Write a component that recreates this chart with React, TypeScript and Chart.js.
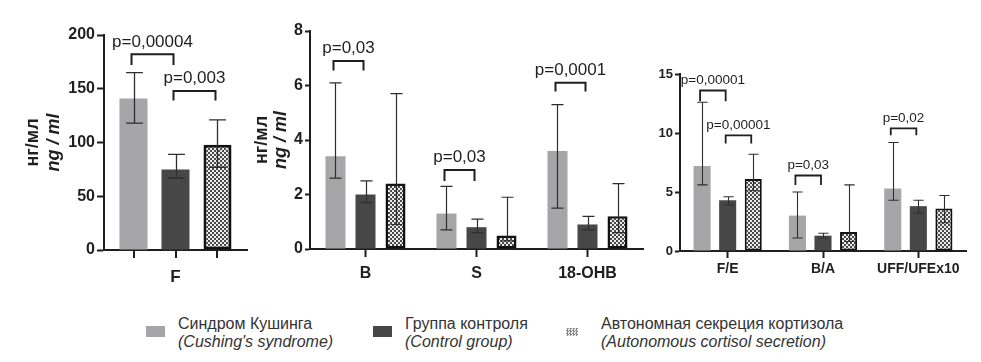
import React, { useEffect, useRef } from 'react';
import { Chart, registerables } from 'chart.js';

Chart.register(...registerables);

const FONT = '"Liberation Sans", Arial, Helvetica, sans-serif';
const INK = '#1f1f1f';
const CUSHING_COLOR = '#a6a6a8';
const CONTROL_COLOR = '#474747';

// ---------- data ----------
const seriesNames = ['Синдром Кушинга', 'Группа контроля', 'Автономная секреция кортизола'];
const seriesNamesEn = ["(Cushing's syndrome)", '(Control group)', '(Autonomous cortisol secretion)'];
const unitRu = 'нг/мл';
const unitEn = 'ng / ml';

// Panel 1
const p1Categories = ['F'];
const p1Cushing = [141];
const p1CushingLow = [118];
const p1CushingHigh = [165];
const p1Control = [75];
const p1ControlLow = [67];
const p1ControlHigh = [89];
const p1Auto = [98];
const p1AutoLow = [77];
const p1AutoHigh = [121];
const p1Ticks = [0, 50, 100, 150, 200];
const p1Brackets = [
  { category: 0, from: 0, to: 1, level: 182, leg: 172, text: 'p=0,00004' },
  { category: 0, from: 1, to: 2, level: 148, leg: 139, text: 'p=0,003' },
];

// Panel 2
const p2Categories = ['B', 'S', '18-OHB'];
const p2Cushing = [3.4, 1.3, 3.6];
const p2CushingLow = [2.6, 0.7, 1.5];
const p2CushingHigh = [6.1, 2.3, 5.3];
const p2Control = [2.0, 0.8, 0.9];
const p2ControlLow = [1.7, 0.6, 0.7];
const p2ControlHigh = [2.5, 1.1, 1.2];
const p2Auto = [2.4, 0.5, 1.2];
const p2AutoLow = [0.9, 0.3, 0.6];
const p2AutoHigh = [5.7, 1.9, 2.4];
const p2Ticks = [0, 2, 4, 6, 8];
const p2Brackets = [
  { category: 0, from: 0, to: 1, level: 6.9, leg: 6.55, text: 'p=0,03' },
  { category: 1, from: 0, to: 1, level: 2.9, leg: 2.5, text: 'p=0,03' },
  { category: 2, from: 0, to: 1, level: 6.1, leg: 5.78, text: 'p=0,0001' },
];

// Panel 3
const p3Categories = ['F/E', 'B/A', 'UFF/UFEx10'];
const p3Cushing = [7.2, 3.0, 5.3];
const p3CushingLow = [5.6, 1.1, 4.3];
const p3CushingHigh = [12.6, 5.0, 9.2];
const p3Control = [4.3, 1.3, 3.8];
const p3ControlLow = [3.9, 1.1, 3.2];
const p3ControlHigh = [4.6, 1.5, 4.3];
const p3Auto = [6.1, 1.6, 3.6];
const p3AutoLow = [5.1, 0.8, 2.4];
const p3AutoHigh = [8.2, 5.6, 4.7];
const p3Ticks = [0, 5, 10, 15];
const p3Brackets = [
  { category: 0, from: 0, to: 1, level: 13.6, leg: 12.7, text: 'p=0,00001' },
  { category: 0, from: 1, to: 2, level: 9.8, leg: 9.1, text: 'p=0,00001' },
  { category: 1, from: 0, to: 1, level: 6.4, leg: 5.6, text: 'p=0,03' },
  { category: 2, from: 0, to: 1, level: 10.4, leg: 9.8, text: 'p=0,02' },
];

// ---------- layout (styles / positions) ----------
type Lay = {
  left: number; width: number; height: number;
  axisX: number; top: number; bottom: number; padRight: number;
  catPct: number; border: number; tickFont: number; xFont: number;
  yTickLen: number; yPad: number; xTickLen: number; xPad: number;
  pSize: number; pGap: number; errW: number; bracketW: number;
  eachBarTicks: boolean; titles: null | { ruX: number; enX: number; size: number };
};

const panels = [
  {
    categories: p1Categories,
    values: [p1Cushing, p1Control, p1Auto],
    lows: [p1CushingLow, p1ControlLow, p1AutoLow],
    highs: [p1CushingHigh, p1ControlHigh, p1AutoHigh],
    ticks: p1Ticks,
    brackets: p1Brackets,
    lay: {
      left: 0, width: 255, height: 300, axisX: 104, top: 35, bottom: 250, padRight: 8,
      catPct: 0.881, border: 3, tickFont: 16, xFont: 17, yTickLen: 7, yPad: 2, xTickLen: 8, xPad: 9,
      pSize: 17, pGap: 4, errW: 1.3, bracketW: 2, eachBarTicks: true,
      titles: { ruX: 33, enX: 54, size: 18 },
    } as Lay,
  },
  {
    categories: p2Categories,
    values: [p2Cushing, p2Control, p2Auto],
    lows: [p2CushingLow, p2ControlLow, p2AutoLow],
    highs: [p2CushingHigh, p2ControlHigh, p2AutoHigh],
    ticks: p2Ticks,
    brackets: p2Brackets,
    lay: {
      left: 240, width: 410, height: 300, axisX: 70, top: 31, bottom: 249, padRight: 7,
      catPct: 0.811, border: 2.5, tickFont: 16, xFont: 16, yTickLen: 5, yPad: 2, xTickLen: 8, xPad: 7,
      pSize: 17, pGap: 4, errW: 1.2, bracketW: 2, eachBarTicks: false,
      titles: { ruX: 22, enX: 41, size: 18 },
    } as Lay,
  },
  {
    categories: p3Categories,
    values: [p3Cushing, p3Control, p3Auto],
    lows: [p3CushingLow, p3ControlLow, p3AutoLow],
    highs: [p3CushingHigh, p3ControlHigh, p3AutoHigh],
    ticks: p3Ticks,
    brackets: p3Brackets,
    lay: {
      left: 640, width: 341, height: 300, axisX: 40, top: 74, bottom: 251, padRight: 15,
      catPct: 0.805, border: 2, tickFont: 13, xFont: 14, yTickLen: 5, yPad: 2, xTickLen: 7, xPad: 3,
      pSize: 13.5, pGap: 3, errW: 1.1, bracketW: 1.8, eachBarTicks: false,
      titles: null,
    } as Lay,
  },
];

type Panel = typeof panels[number];

function makePattern(ctx: CanvasRenderingContext2D) {
  const c = document.createElement('canvas');
  c.width = 4;
  c.height = 4;
  const p = c.getContext('2d')!;
  p.fillStyle = '#ebebeb';
  p.fillRect(0, 0, 4, 4);
  p.fillStyle = '#4a4a4a';
  p.fillRect(0, 0, 2, 2);
  p.fillRect(2, 2, 2, 2);
  return ctx.createPattern(c, 'repeat')!;
}

function overlay(panel: Panel) {
  const lay = panel.lay;
  return {
    id: 'overlay',
    afterDatasetsDraw(chart: any) {
      const { ctx, chartArea } = chart;
      const ys = chart.scales.y;
      ctx.save();
      // error bars
      ctx.strokeStyle = '#2e2e2e';
      ctx.lineWidth = lay.errW;
      for (let i = 0; i < 3; i++) {
        const meta = chart.getDatasetMeta(i);
        meta.data.forEach((bar: any, j: number) => {
          const x = Math.round(bar.x) + 0.5;
          const cap = (bar.width * 0.6) / 2;
          const yl = ys.getPixelForValue(panel.lows[i][j]);
          const yh = ys.getPixelForValue(panel.highs[i][j]);
          ctx.beginPath();
          ctx.moveTo(x, yl);
          ctx.lineTo(x, yh);
          ctx.moveTo(x - cap, yh);
          ctx.lineTo(x + cap, yh);
          ctx.moveTo(x - cap, yl);
          ctx.lineTo(x + cap, yl);
          ctx.stroke();
        });
      }
      // brackets
      ctx.strokeStyle = INK;
      ctx.lineWidth = lay.bracketW;
      ctx.lineJoin = 'miter';
      ctx.fillStyle = INK;
      ctx.font = `${lay.pSize}px ${FONT}`;
      ctx.textAlign = 'center';
      ctx.textBaseline = 'bottom';
      panel.brackets.forEach((b) => {
        const x1 = chart.getDatasetMeta(b.from).data[b.category].x - 2;
        const x2 = chart.getDatasetMeta(b.to).data[b.category].x - 2;
        const yl = ys.getPixelForValue(b.level);
        const yg = ys.getPixelForValue(b.leg);
        ctx.beginPath();
        ctx.moveTo(x1, yg);
        ctx.lineTo(x1, yl);
        ctx.lineTo(x2, yl);
        ctx.lineTo(x2, yg);
        ctx.stroke();
        ctx.fillText(b.text, (x1 + x2) / 2, yl - lay.pGap);
      });
      // ticks under every bar
      if (lay.eachBarTicks) {
        ctx.strokeStyle = INK;
        ctx.lineWidth = 2;
        for (let i = 0; i < 3; i++) {
          chart.getDatasetMeta(i).data.forEach((bar: any) => {
            const x = Math.round(bar.x);
            ctx.beginPath();
            ctx.moveTo(x, chartArea.bottom);
            ctx.lineTo(x, chartArea.bottom + lay.xTickLen);
            ctx.stroke();
          });
        }
      }
      // y-axis title
      if (lay.titles) {
        const cy = (chartArea.top + chartArea.bottom) / 2;
        ctx.textAlign = 'center';
        ctx.textBaseline = 'middle';
        ctx.fillStyle = INK;
        ctx.save();
        ctx.translate(lay.titles.ruX, cy);
        ctx.rotate(-Math.PI / 2);
        ctx.font = `bold ${lay.titles.size}px ${FONT}`;
        ctx.fillText(unitRu, 0, 0);
        ctx.restore();
        ctx.save();
        ctx.translate(lay.titles.enX, cy);
        ctx.rotate(-Math.PI / 2);
        ctx.font = `italic bold ${lay.titles.size}px ${FONT}`;
        ctx.fillText(unitEn, 0, 0);
        ctx.restore();
      }
      ctx.restore();
    },
  };
}

function PanelChart({ panel }: { panel: Panel }) {
  const ref = useRef<HTMLCanvasElement>(null);
  const lay = panel.lay;
  useEffect(() => {
    const canvas = ref.current!;
    const ctx = canvas.getContext('2d')!;
    const pattern = makePattern(ctx);
    const ticks = panel.ticks;
    const chart = new Chart(canvas, {
      type: 'bar',
      data: {
        labels: panel.categories,
        datasets: [
          { label: seriesNames[0], data: panel.values[0], backgroundColor: CUSHING_COLOR, borderWidth: 0 },
          { label: seriesNames[1], data: panel.values[1], backgroundColor: CONTROL_COLOR, borderWidth: 0 },
          {
            label: seriesNames[2], data: panel.values[2], backgroundColor: pattern as any,
            borderColor: '#111', borderWidth: lay.border, borderSkipped: false,
          },
        ],
      },
      options: {
        responsive: false,
        animation: false,
        devicePixelRatio: 1,
        layout: { padding: { left: 0, top: lay.top, right: lay.padRight, bottom: 0 } },
        datasets: { bar: { categoryPercentage: lay.catPct, barPercentage: 0.667 } },
        plugins: { legend: { display: false }, tooltip: { enabled: false }, title: { display: false } },
        scales: {
          x: {
            grid: {
              display: true, drawOnChartArea: false, offset: false,
              tickLength: lay.xTickLen, tickWidth: 2,
              tickColor: lay.eachBarTicks ? 'rgba(0,0,0,0)' : INK,
            },
            border: { color: INK, width: 2 },
            ticks: { color: INK, font: { family: FONT, size: lay.xFont, weight: 'bold' }, padding: lay.xPad, maxRotation: 0 },
            afterFit: (s: any) => { s.height = lay.height - lay.bottom; },
          },
          y: {
            min: ticks[0],
            max: ticks[ticks.length - 1],
            afterBuildTicks: (s: any) => { s.ticks = ticks.map((v) => ({ value: v })); },
            grid: { display: true, drawOnChartArea: false, tickLength: lay.yTickLen, tickWidth: 2, tickColor: INK },
            border: { color: INK, width: 2 },
            ticks: { color: INK, font: { family: FONT, size: lay.tickFont, weight: 'bold' }, padding: lay.yPad },
            afterFit: (s: any) => { s.width = lay.axisX; },
          },
        },
      } as any,
      plugins: [overlay(panel)],
    });
    return () => chart.destroy();
  }, []);
  return (
    <canvas
      ref={ref}
      width={lay.width}
      height={lay.height}
      style={{ position: 'absolute', left: lay.left, top: 0, width: lay.width, height: lay.height }}
    />
  );
}

const legendMarkers = [
  { x: 146, textX: 178, w: 19, h: 11, top: 326, bg: CUSHING_COLOR },
  { x: 373, textX: 405, w: 19, h: 11, top: 326, bg: CONTROL_COLOR },
  {
    x: 566, textX: 601, w: 12, h: 8, top: 328,
    bg: 'repeating-conic-gradient(#8a8a8a 0 25%, #f0f0f0 0 50%) 0 0 / 3px 3px',
  },
];

export default function App() {
  return (
    <div style={{ position: 'absolute', left: 0, top: 0, width: 981, height: 362, background: '#fff', overflow: 'hidden' }}>
      {panels.map((p, i) => (
        <PanelChart key={i} panel={p} />
      ))}
      {legendMarkers.map((m, i) => (
        <React.Fragment key={i}>
          <div style={{ position: 'absolute', left: m.x, top: m.top, width: m.w, height: m.h, background: m.bg }} />
          <div
            style={{
              position: 'absolute', left: m.textX, top: 315, fontFamily: FONT, fontSize: 16,
              lineHeight: '18px', color: '#333', whiteSpace: 'nowrap',
            }}
          >
            <div>{seriesNames[i]}</div>
            <div style={{ fontStyle: 'italic' }}>{seriesNamesEn[i]}</div>
          </div>
        </React.Fragment>
      ))}
    </div>
  );
}
